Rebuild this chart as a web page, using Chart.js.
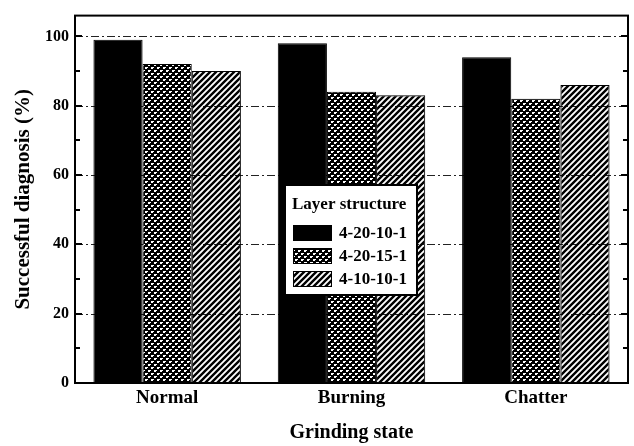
<!DOCTYPE html>
<html>
<head>
<meta charset="utf-8">
<script src="https://cdn.jsdelivr.net/npm/chart.js@4.4.1/dist/chart.umd.min.js"></script>
<style>
    html, body {margin: 0; padding: 0; background: #fff;}
    #wrap {width: 634px; height: 446px;}
</style>
</head>
<body>
<div id="wrap"><canvas id="chart" width="634" height="446"></canvas></div>
<script>
const categories = ["Normal", "Burning", "Chatter"];
const seriesNames = ["4-20-10-1", "4-20-15-1", "4-10-10-1"];
const values_4_20_10_1 = [99, 98, 94];
const values_4_20_15_1 = [92, 84, 82];
const values_4_10_10_1 = [90, 83, 86];
const gridValues = [20, 40, 60, 80, 100];
const tickValues = [0, 10, 20, 30, 40, 50, 60, 70, 80, 90, 100];

const FONT = "'Liberation Serif', 'Times New Roman', serif";

// dotted "crosshatch" fill: black with white plus-shaped dots
function makeDotPattern() {
    const c = document.createElement("canvas");
    c.width = 6;
    c.height = 6;
    const g = c.getContext("2d");
    g.fillStyle = "#000";
    g.fillRect(0, 0, 6, 6);
    g.fillStyle = "#fff";
    g.fillRect(1, 1, 2, 2);
    g.fillRect(4, 4, 2, 2);
    g.fillRect(0, 4, 1, 1);
    g.fillRect(3, 1, 1, 1);
    return g.createPattern(c, "repeat");
}

// diagonal "/" hatch, transparent between strokes
function makeHatchPattern() {
    const c = document.createElement("canvas");
    c.width = 6;
    c.height = 6;
    const g = c.getContext("2d");
    g.strokeStyle = "#000";
    g.lineWidth = 2.4;
    g.beginPath();
    g.moveTo(-1, 7); g.lineTo(7, -1);
    g.moveTo(-4, 4); g.lineTo(4, -4);
    g.moveTo(2, 10); g.lineTo(10, 2);
    g.stroke();
    return g.createPattern(c, "repeat");
}

const fills = ["#000", makeDotPattern(), makeHatchPattern()];

// dash-dot grid lines behind the bars
const gridPlugin = {
    id: "dashGrid",
    beforeDatasetsDraw(chart) {
        const {ctx, chartArea, scales} = chart;
        ctx.save();
        ctx.strokeStyle = "#222";
        ctx.lineWidth = 1;
        ctx.setLineDash([8, 3, 2, 3]);
        gridValues.forEach((v) => {
            const y = Math.round(scales.y.getPixelForValue(v)) + 0.5;
            ctx.beginPath();
            ctx.moveTo(chartArea.left, y);
            ctx.lineTo(chartArea.right, y);
            ctx.stroke();
        });
        ctx.restore();
    },
};

// frame box, inward ticks on both sides, and the legend box
const framePlugin = {
    id: "frame",
    afterDraw(chart) {
        const {ctx, chartArea, scales} = chart;
        const {left, right, top, bottom} = chartArea;
        ctx.save();
        ctx.strokeStyle = "#000";
        ctx.lineWidth = 2;
        ctx.strokeRect(left, top, right - left, bottom - top);

        tickValues.forEach((v) => {
            const y = Math.round(scales.y.getPixelForValue(v));
            const len = v % 20 === 0 ? 7 : 5;
            ctx.beginPath();
            ctx.moveTo(left, y);
            ctx.lineTo(left + len, y);
            ctx.moveTo(right, y);
            ctx.lineTo(right - len, y);
            ctx.stroke();
        });

        // legend
        const lx = 285, ly = 185, lw = 132, lh = 110;
        ctx.fillStyle = "#fff";
        ctx.fillRect(lx, ly, lw, lh);
        ctx.lineWidth = 2;
        ctx.strokeRect(lx, ly, lw, lh);
        ctx.fillStyle = "#000";
        ctx.font = "bold 17px " + FONT;
        ctx.textBaseline = "middle";
        ctx.textAlign = "left";
        ctx.fillText("Layer structure", lx + 7, ly + 20);
        chart.data.datasets.forEach((ds, i) => {
            const sy = ly + 40 + i * 23;
            ctx.fillStyle = ds.backgroundColor;
            ctx.fillRect(lx + 8, sy, 39, 16);
            ctx.lineWidth = 1;
            ctx.strokeRect(lx + 8.5, sy + 0.5, 38, 15);
            ctx.fillStyle = "#000";
            ctx.fillText(ds.label, lx + 54, sy + 9);
        });
        ctx.restore();
    },
};

const seriesValues = [values_4_20_10_1, values_4_20_15_1, values_4_10_10_1];

new Chart(document.getElementById("chart"), {
    type: "bar",
    data: {
        labels: categories,
        datasets: seriesNames.map((name, i) => ({
            label: name,
            data: seriesValues[i],
            backgroundColor: fills[i],
            borderColor: "#000",
            borderWidth: 1,
            categoryPercentage: 0.8,
            barPercentage: 1.0,
        })),
    },
    options: {
        responsive: false,
        animation: false,
        layout: {padding: {left: 0, right: 6, top: 11, bottom: 0}},
        plugins: {
            legend: {display: false},
            tooltip: {enabled: false},
        },
        scales: {
            x: {
                grid: {display: false, drawTicks: false},
                border: {display: false},
                ticks: {
                    color: "#000",
                    padding: 4,
                    font: {family: FONT, size: 19, weight: "bold"},
                },
                title: {
                    display: true,
                    text: "Grinding state",
                    color: "#000",
                    padding: {top: 0, bottom: 1},
                    font: {family: FONT, size: 20, weight: "bold"},
                },
                afterFit(scale) {
                    scale.height = 63;
                },
            },
            y: {
                min: 0,
                max: 106,
                grid: {display: false, drawTicks: false},
                border: {display: false},
                ticks: {
                    stepSize: 10,
                    color: "#000",
                    padding: 6,
                    font: {family: FONT, size: 16, weight: "bold"},
                    callback: (v) => (v % 20 === 0 && v <= 100 ? v : ""),
                },
                title: {
                    display: true,
                    text: "Successful diagnosis (%)",
                    color: "#000",
                    padding: {top: 11, bottom: 0},
                    font: {family: FONT, size: 21, weight: "bold"},
                },
                afterFit(scale) {
                    scale.width = 75;
                },
            },
        },
    },
    plugins: [gridPlugin, framePlugin],
});
</script>
</body>
</html>
